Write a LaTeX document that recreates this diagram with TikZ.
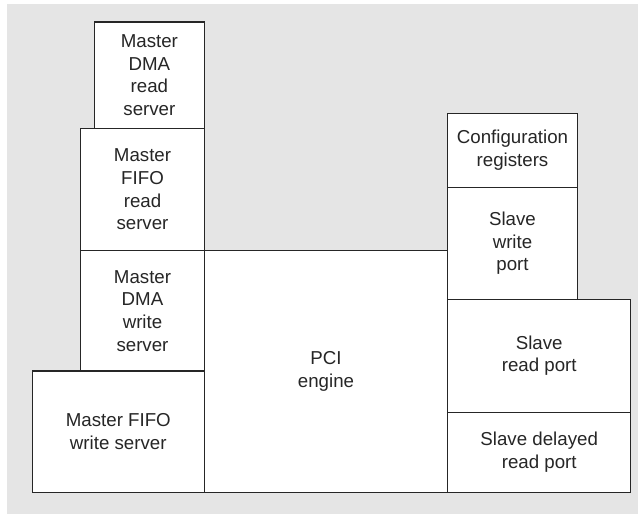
\documentclass[tikz,border=0pt]{standalone}
\usepackage{fontspec}
\setmainfont{Liberation Sans}
\begin{document}
\begin{tikzpicture}[x=1pt,y=-1pt,
  blk/.style={draw=black!85,line width=1.1pt,fill=white,inner sep=0pt,
    align=center,font=\fontsize{18.7}{22.7}\selectfont,text=black!85},
  panel/.style={fill=black!10,draw=none}]
\useasboundingbox (0,0) rectangle (638,514);
\fill[panel] (7,4) rectangle (638,514);
% \blkat{name}{x1}{y1}{x2}{y2}{text}
\newcommand\blkat[6]{%
  \pgfmathsetmacro\bw{#4-#2}\pgfmathsetmacro\bh{#5-#3}%
  \node[blk,minimum width=\bw pt,minimum height=\bh pt,anchor=center]
    (#1) at ({(#2+#4)/2},{(#3+#5)/2}) {#6};}
% master side
\blkat{mdr}{94.5}{22}{204.3}{128.3}{Master\\DMA\\read\\server}
\blkat{mfr}{80.7}{128.3}{204.3}{250.5}{Master\\FIFO\\read\\server}
\blkat{mdw}{80.7}{250.5}{204.3}{371}{Master\\DMA\\write\\server}
\blkat{mfw}{32.3}{371}{204.3}{492.3}{Master FIFO\\write server}
% core
\blkat{pci}{204.3}{250.7}{447.7}{492.3}{PCI\\engine}
% slave side
\blkat{cfg}{447.7}{113.3}{577.3}{187.3}{Configuration\\registers}
\blkat{swp}{447.7}{187.3}{577.3}{299.3}{Slave\\write\\port}
\blkat{srp}{447.7}{299.3}{630.7}{412.3}{Slave\\read port}
\blkat{sdr}{447.7}{412.3}{630.7}{492.3}{Slave delayed\\read port}
\end{tikzpicture}
\end{document}
